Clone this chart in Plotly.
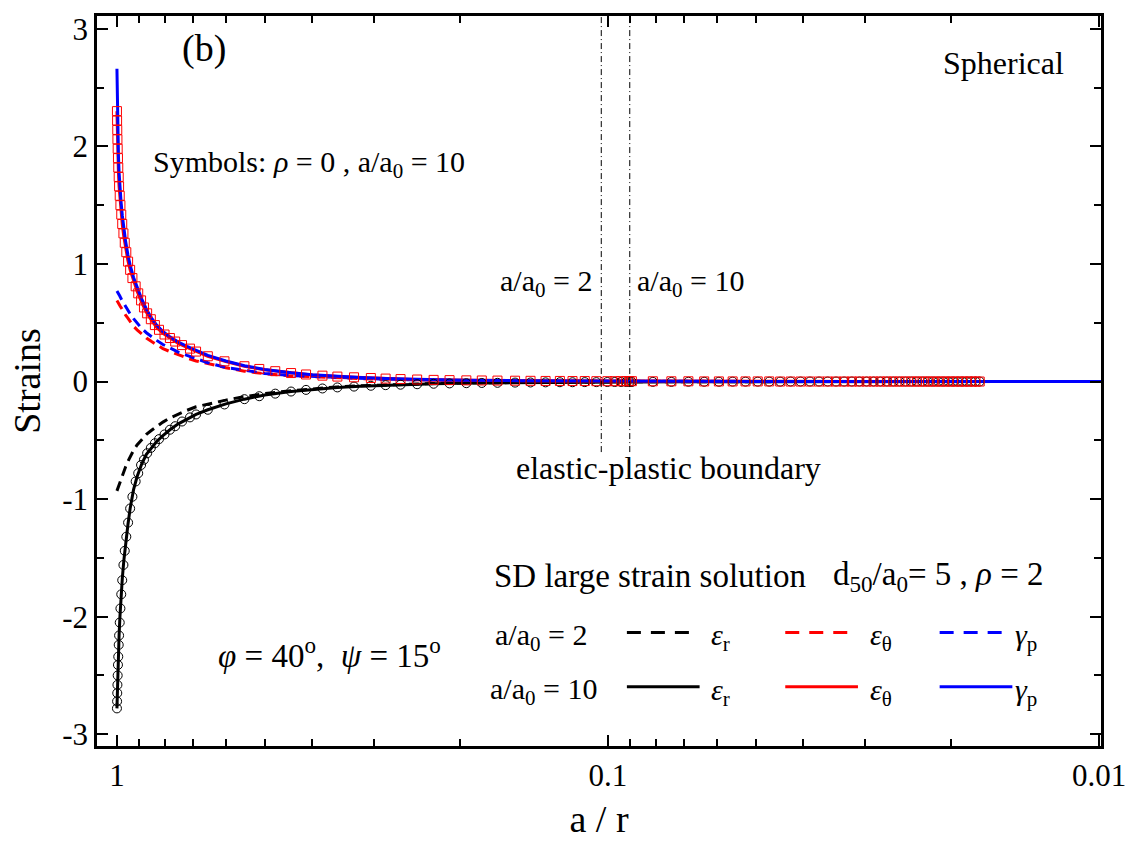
import plotly.graph_objects as go

# ---------------- data ----------------
# common a/r grid for the solution curves
a_r = [1.0, 0.998, 0.996, 0.993, 0.99, 0.986, 0.981, 0.975, 0.968, 0.96, 0.95, 0.94,
       0.925, 0.91, 0.89, 0.871, 0.85, 0.83, 0.806, 0.78, 0.75, 0.72, 0.69, 0.653,
       0.6, 0.55, 0.5, 0.442, 0.4, 0.356, 0.32, 0.284, 0.25, 0.226, 0.2, 0.15, 0.12,
       0.1, 0.09, 0.07, 0.05, 0.03, 0.0099]

# a/a0 = 2 (dashed)
eps_r_2 = [-0.93, -0.92, -0.91, -0.895, -0.875, -0.85, -0.825, -0.80, -0.765, -0.725, -0.68, -0.64,
           -0.585, -0.54, -0.49, -0.45, -0.415, -0.38, -0.345, -0.31, -0.275, -0.245, -0.215, -0.19,
           -0.158, -0.128, -0.103, -0.078, -0.061, -0.046, -0.036, -0.027, -0.02, -0.016, -0.012, -0.007, -0.005,
           -0.003, -0.002, -0.001, -0.0005, -0.0001, 0.0]
eps_t_2 = [0.69, 0.685, 0.68, 0.67, 0.66, 0.645, 0.63, 0.61, 0.59, 0.565, 0.54, 0.51,
           0.47, 0.44, 0.40, 0.37, 0.34, 0.31, 0.28, 0.255, 0.225, 0.2, 0.175, 0.15,
           0.118, 0.088, 0.066, 0.048, 0.04, 0.032, 0.025, 0.019, 0.014, 0.011, 0.009, 0.005, 0.003,
           0.002, 0.0015, 0.001, 0.0004, 0.0001, 0.0]
gam_p_2 = [0.77, 0.765, 0.76, 0.75, 0.74, 0.725, 0.705, 0.685, 0.66, 0.635, 0.605, 0.575,
           0.535, 0.495, 0.45, 0.415, 0.38, 0.35, 0.315, 0.285, 0.25, 0.222, 0.195, 0.16,
           0.12, 0.093, 0.069, 0.051, 0.043, 0.034, 0.026, 0.02, 0.015, 0.012, 0.009, 0.005, 0.003,
           0.002, 0.0015, 0.001, 0.0004, 0.0001, 0.0]

# a/a0 = 10 (solid)
eps_r_10 = [-2.78, -2.62, -2.48, -2.30, -2.16, -2.0, -1.83, -1.67, -1.52, -1.37, -1.22, -1.08,
            -0.92, -0.81, -0.70, -0.62, -0.56, -0.51, -0.46, -0.41, -0.36, -0.32, -0.28, -0.24,
            -0.19, -0.15, -0.115, -0.085, -0.066, -0.05, -0.04, -0.031, -0.023, -0.018, -0.014, -0.008, -0.005,
            -0.004, -0.003, -0.0015, -0.0006, -0.0001, 0.0]
eps_t_10 = [2.30, 2.08, 1.93, 1.78, 1.66, 1.55, 1.44, 1.33, 1.23, 1.13, 1.03, 0.95,
            0.85, 0.77, 0.67, 0.59, 0.52, 0.46, 0.41, 0.37, 0.325, 0.29, 0.255, 0.215,
            0.17, 0.13, 0.1, 0.072, 0.055, 0.042, 0.033, 0.025, 0.018, 0.014, 0.011, 0.007, 0.005,
            0.004, 0.003, 0.0015, 0.0006, 0.0001, 0.0]
gam_p_10 = [2.66, 2.30, 2.10, 1.92, 1.78, 1.65, 1.53, 1.41, 1.30, 1.19, 1.08, 0.99,
            0.885, 0.80, 0.70, 0.615, 0.54, 0.48, 0.425, 0.38, 0.335, 0.30, 0.263, 0.222,
            0.175, 0.134, 0.103, 0.074, 0.057, 0.043, 0.034, 0.026, 0.019, 0.015, 0.011, 0.007, 0.005,
            0.004, 0.003, 0.0015, 0.0006, 0.0001, 0.0]

# symbols: rho = 0, a/a0 = 10
sym_ar = [1.0, 0.9993, 0.9985, 0.9977, 0.9965, 0.9952, 0.9938, 0.9917, 0.99, 0.987, 0.9838, 0.98,
          0.9755, 0.97, 0.964, 0.957, 0.949, 0.94, 0.93, 0.916, 0.905, 0.893, 0.881, 0.868,
          0.853, 0.837, 0.821, 0.8, 0.78, 0.761, 0.737, 0.71, 0.69, 0.653, 0.604, 0.55,
          0.513, 0.476, 0.442, 0.412, 0.3815, 0.3557, 0.329, 0.304, 0.2837, 0.2645, 0.2447, 0.2265,
          0.2102, 0.1943, 0.1807, 0.1679, 0.1546, 0.1438, 0.134, 0.1253, 0.1181, 0.1115, 0.1056, 0.1003,
          0.0969, 0.094, 0.0918, 0.0904, 0.0894,
          0.08104, 0.07429, 0.06859, 0.06369, 0.05945, 0.05574, 0.05247, 0.04955, 0.04695, 0.0446,
          0.04248, 0.04055, 0.03879, 0.03717, 0.03569, 0.03432, 0.03305, 0.03187, 0.03077, 0.02974,
          0.02879, 0.02789, 0.02704, 0.02625, 0.0255, 0.02479, 0.02412, 0.02349, 0.02288, 0.02231,
          0.02177, 0.02125, 0.02076, 0.02028, 0.01983, 0.0194, 0.01899, 0.01859, 0.01821, 0.01785, 0.0175]
sym_eps_t = [2.30, 2.22, 2.14, 2.06, 1.98, 1.90, 1.82, 1.74, 1.66, 1.58, 1.50, 1.42,
             1.34, 1.26, 1.18, 1.10, 1.02, 0.95, 0.88, 0.81, 0.75, 0.69, 0.63, 0.58,
             0.53, 0.48, 0.44, 0.40, 0.37, 0.34, 0.31, 0.28, 0.255, 0.215, 0.172, 0.13,
             0.107, 0.088, 0.072, 0.06, 0.05, 0.042, 0.036, 0.03, 0.025, 0.021, 0.017, 0.014,
             0.012, 0.010, 0.009, 0.008, 0.007, 0.006, 0.005, 0.005, 0.004, 0.004, 0.003, 0.003,
             0.003, 0.003, 0.003, 0.003, 0.003,
             0.002, 0.002, 0.002, 0.001, 0.001, 0.001, 0.001, 0.001, 0.001, 0.0,
             0.0, 0.0, 0.0, 0.0, 0.0, 0.0, 0.0, 0.0, 0.0, 0.0,
             0.0, 0.0, 0.0, 0.0, 0.0, 0.0, 0.0, 0.0, 0.0, 0.0,
             0.0, 0.0, 0.0, 0.0, 0.0, 0.0, 0.0, 0.0, 0.0, 0.0, 0.0]
sym_eps_r = [-2.78, -2.72, -2.65, -2.58, -2.50, -2.41, -2.34, -2.24, -2.16, -2.05, -1.93, -1.81,
             -1.69, -1.56, -1.44, -1.32, -1.20, -1.08, -0.98, -0.85, -0.78, -0.71, -0.665, -0.61,
             -0.565, -0.525, -0.49, -0.45, -0.41, -0.38, -0.34, -0.305, -0.28, -0.24, -0.195, -0.15,
             -0.125, -0.103, -0.085, -0.071, -0.059, -0.05, -0.043, -0.036, -0.031, -0.027, -0.023, -0.019,
             -0.016, -0.014, -0.012, -0.011, -0.009, -0.008, -0.007, -0.006, -0.006, -0.005, -0.005, -0.004,
             -0.004, -0.004, -0.004, -0.004, -0.004,
             -0.003, -0.003, -0.002, -0.002, -0.002, -0.001, -0.001, -0.001, -0.001, -0.001,
             0.0, 0.0, 0.0, 0.0, 0.0, 0.0, 0.0, 0.0, 0.0, 0.0,
             0.0, 0.0, 0.0, 0.0, 0.0, 0.0, 0.0, 0.0, 0.0, 0.0,
             0.0, 0.0, 0.0, 0.0, 0.0, 0.0, 0.0, 0.0, 0.0, 0.0, 0.0]

# elastic-plastic boundaries (a/r) for a/a0 = 2 and a/a0 = 10
boundary_ar = [0.1032, 0.0903]
boundary_y = [-0.6, 3.11]

x_tickvals = [1, 0.1, 0.01]
x_ticktext = ["1", "0.1", "0.01"]
x_minorvals = [0.9, 0.8, 0.7, 0.6, 0.5, 0.4, 0.3, 0.2,
               0.09, 0.08, 0.07, 0.06, 0.05, 0.04, 0.03, 0.02]
y_tickvals = [-3, -2, -1, 0, 1, 2, 3]
y_ticktext = ["-3", "-2", "-1", "0", "1", "2", "3"]

legend_rows = ["a/a<sub>0</sub> = 2", "a/a<sub>0</sub> = 10"]
legend_names = ["<i>ε</i><sub>r</sub>", "<i>ε</i><sub>θ</sub>", "<i>γ</i><sub>p</sub>"]
legend_colors = ["black", "red", "blue"]

# ---------------- figure ----------------
FONT = "Liberation Serif"
W, H = 1138, 846
ML, MR, MT, MB = 97, 33, 12, 94
PW, PH = W - ML - MR, H - MT - MB


def px(x):
    return (x - ML) / PW


def py(y):
    return (H - MB - y) / PH


fig = go.Figure()

DASH = "10px,6px"
line_specs = [
    (eps_r_2, "black", DASH), (eps_t_2, "red", DASH), (gam_p_2, "blue", DASH),
    (eps_r_10, "black", "solid"), (eps_t_10, "red", "solid"), (gam_p_10, "blue", "solid"),
]
for yv, col, dash in line_specs:
    fig.add_trace(go.Scatter(x=a_r, y=yv, mode="lines", showlegend=False,
                             line=dict(color=col, width=3, dash=dash)))

fig.add_trace(go.Scatter(x=sym_ar, y=sym_eps_r, mode="markers", showlegend=False,
                         marker=dict(symbol="circle-open", size=9, color="black",
                                     line=dict(width=1, color="black"))))
fig.add_trace(go.Scatter(x=sym_ar, y=sym_eps_t, mode="markers", showlegend=False,
                         marker=dict(symbol="square-open", size=9, color="red",
                                     line=dict(width=1, color="red"))))

for b in boundary_ar:
    fig.add_trace(go.Scatter(x=[b, b], y=boundary_y, mode="lines", showlegend=False,
                             line=dict(color="black", width=1, dash="6px,3px,1px,3px")))

NB = "\u00a0"
# text annotations
annotations = [
    ("(b)", 204, 45, "center", 38),
    ("Spherical", 1007, 60, "center", 32),
    ("Symbols: <i>ρ</i> = 0 , a/a<sub>0</sub> = 10", 151, 162, "left", 30),
    ("a/a<sub>0</sub> = 2", 596, 283, "right", 30),
    ("a/a<sub>0</sub> = 10", 637, 283, "left", 30),
    ("elastic-plastic boundary", 671, 470, "center", 32),
    ("SD large strain solution", 494, 580, "left", 33),
    ("d<sub>50</sub>/a<sub>0</sub>= 5 , <i>ρ</i> = 2", 834, 580, "left", 33),
    (legend_rows[0], 495, 641, "left", 30),
    (legend_rows[1], 490, 696, "left", 30),
    ("<i>φ</i> = 40<sup>o</sup>," + NB + NB + "<i>ψ</i> = 15<sup>o</sup>", 216, 658, "left", 33),
]
for txt, x, y, anchor, size in annotations:
    fig.add_annotation(text=txt, x=px(x), y=py(y), xref="paper", yref="paper",
                       xanchor=anchor, yanchor="middle", showarrow=False,
                       font=dict(family=FONT, size=size, color="black"))

# custom legend: key lines + labels
key_x0 = [629, 788, 943]
key_len = [63, 73]
row_y = [637, 692]
label_x = [711, 871, 1017]
for r, (ry, dash) in enumerate(zip(row_y, ["14px,10px", "solid"])):
    for c in range(3):
        fig.add_shape(type="line", xref="paper", yref="paper",
                      x0=px(key_x0[c]), x1=px(key_x0[c] + key_len[r]), y0=py(ry), y1=py(ry),
                      line=dict(color=legend_colors[c], width=3, dash=dash))
        fig.add_annotation(text=legend_names[c], x=px(label_x[c]), y=py(ry + 5),
                           xref="paper", yref="paper", xanchor="left", yanchor="middle",
                           showarrow=False, font=dict(family=FONT, size=30, color="black"))

axis_common = dict(showline=True, linewidth=2.5, linecolor="black", mirror="allticks",
                   ticks="inside", tickwidth=2, tickcolor="black", ticklen=11,
                   showgrid=False, zeroline=False,
                   tickfont=dict(family=FONT, size=31, color="black"))

fig.update_xaxes(type="log", range=[0.0406, -2.004], tickmode="array",
                 tickvals=x_tickvals, ticktext=x_ticktext,
                 minor=dict(tickmode="array", tickvals=x_minorvals, ticks="inside",
                            ticklen=7, tickwidth=2, tickcolor="black", showgrid=False),
                 title=dict(text="a / r", font=dict(family=FONT, size=38, color="black"), standoff=14),
                 **axis_common)
fig.update_yaxes(range=[-3.10, 3.109], tickmode="array", tickvals=y_tickvals, ticktext=y_ticktext,
                 minor=dict(dtick=0.5, ticks="inside", ticklen=7, tickwidth=2,
                            tickcolor="black", showgrid=False),
                 title=dict(text="Strains", font=dict(family=FONT, size=38, color="black"), standoff=10),
                 **axis_common)

fig.update_layout(
    width=W, height=H,
    margin=dict(l=ML, r=MR, t=MT, b=MB),
    paper_bgcolor="white", plot_bgcolor="white",
    showlegend=False,
    font=dict(family=FONT, color="black"),
)

fig.write_html("out.html")
